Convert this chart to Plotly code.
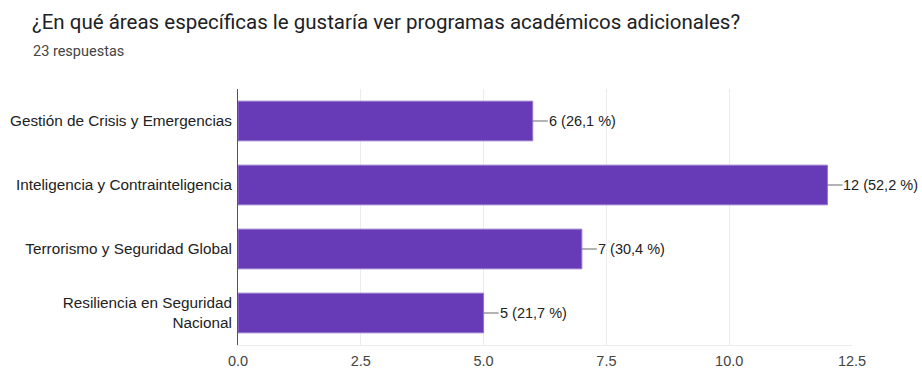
import plotly.graph_objects as go

categories = ["Gestión de Crisis y Emergencias", "Inteligencia y Contrainteligencia",
              "Terrorismo y Seguridad Global", "Resiliencia en Seguridad<br>Nacional"]
values = [6, 12, 7, 5]
labels = ["6 (26,1 %)", "12 (52,2 %)", "7 (30,4 %)", "5 (21,7 %)"]
tick_vals = [0, 2.5, 5, 7.5, 10, 12.5]
tick_text = ["0.0", "2.5", "5.0", "7.5", "10.0", "12.5"]

LABEL_FONT = "Liberation Sans, Arial, sans-serif"

fig = go.Figure()
fig.add_trace(go.Bar(
    y=categories, x=values, orientation="h",
    marker=dict(color="#673ab7", line=dict(color="#9575cd", width=1)),
    width=0.62, hoverinfo="skip",
))

annotations = []
for c, v, t in zip(categories, values, labels):
    fig.add_shape(type="line", xref="x", yref="y", xsizemode="pixel", xanchor=v,
                  x0=0, x1=15, y0=c, y1=c, line=dict(color="#666666", width=1))
    annotations.append(dict(x=v, y=c, xref="x", yref="y", text=t, showarrow=False,
                            xanchor="left", xshift=14,
                            font=dict(family=LABEL_FONT, size=14.5, color="#222222")))

annotations.append(dict(text="23 respuestas", xref="paper", yref="paper",
                        x=(31 - 238) / 614, y=1 + (89 - 51) / 256,
                        xanchor="left", yanchor="middle", showarrow=False,
                        font=dict(family="Roboto, sans-serif", size=14.5, color="#444444")))

fig.update_layout(
    width=922, height=368,
    margin=dict(l=238, r=70, t=89, b=23),
    paper_bgcolor="white", plot_bgcolor="white",
    font=dict(family=LABEL_FONT, size=14, color="#222222"),
    showlegend=False,
    title=dict(text="¿En qué áreas específicas le gustaría ver programas académicos adicionales?",
               x=32 / 922, xanchor="left", xref="container",
               y=1 - 22 / 368, yanchor="middle", yref="container",
               font=dict(family="Roboto, sans-serif", size=20.5, color="#202124")),
    annotations=annotations,
)
fig.update_xaxes(range=[0, 12.5], tickvals=tick_vals, ticktext=tick_text,
                 showgrid=True, gridcolor="#ebebeb", gridwidth=1,
                 zeroline=False, showline=True, linecolor="#ebebeb", mirror=False,
                 ticks="", tickfont=dict(family=LABEL_FONT, size=14.5, color="#444444"),
                 ticklabelstandoff=3, automargin=False, fixedrange=True)
fig.update_yaxes(categoryorder="array", categoryarray=categories[::-1],
                 showgrid=False, showline=True, linecolor="#555555", linewidth=1,
                 ticks="", tickfont=dict(family=LABEL_FONT, size=15.3, color="#222222"),
                 ticklabelstandoff=2, automargin=False, fixedrange=True)

fig.write_html("out.html")
